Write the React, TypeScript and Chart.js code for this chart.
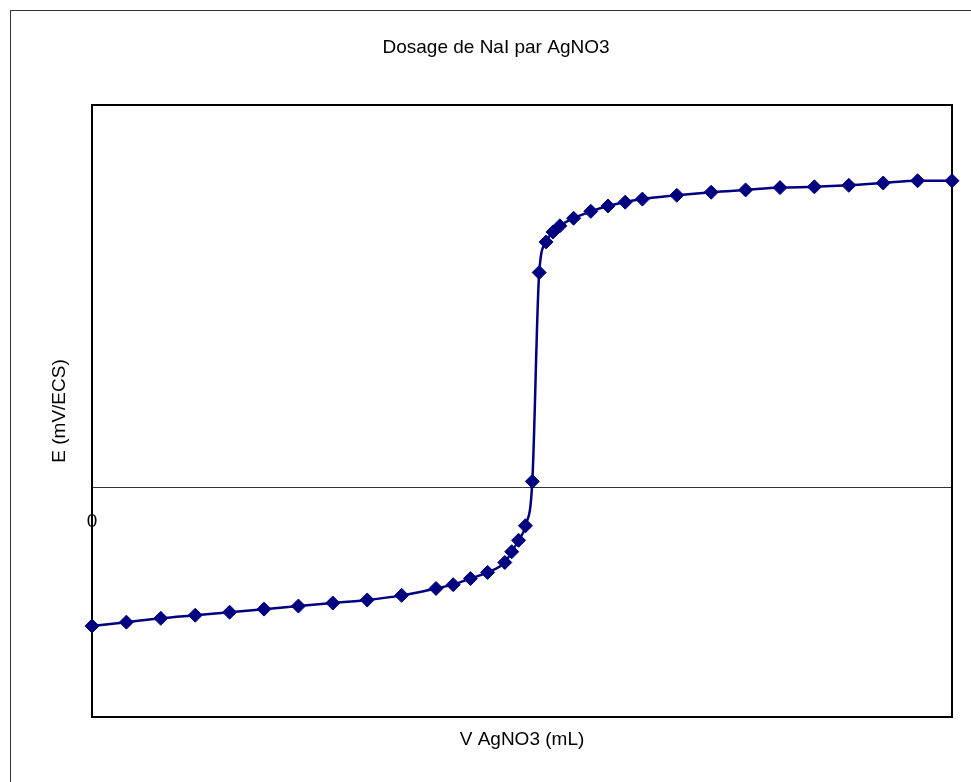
import React, { useEffect, useRef } from "react";
import { Chart, registerables } from "chart.js";

Chart.register(...registerables);

const titleText = "Dosage de NaI par AgNO3";
const xTitle = "V AgNO3 (mL)";
const yTitle = "E (mV/ECS)";

const volumes = [0, 1, 2, 3, 4, 5, 6, 7, 8, 9, 10, 10.5, 11, 11.5, 12, 12.2, 12.4, 12.6, 12.8, 13, 13.2, 13.4, 13.6, 14, 14.5, 15, 15.5, 16, 17, 18, 19, 20, 21, 22, 23, 24, 25];
const potentials = [-181, -176, -171, -167, -163, -159, -155, -151, -147, -141, -132, -127, -119, -111, -98, -84, -69, -50, 8, 281, 321, 334, 342, 352, 361, 368, 373, 377, 382, 386, 389, 392, 393, 395, 398, 401, 401];

const xMin = 0;
const xMax = 25;
const yMin = -300;
const yMax = 500;

const FONT = "'Liberation Sans', Arial, sans-serif";

const framePlugin = {
  id: "frame",
  beforeDatasetsDraw(chart: any) {
    const { ctx, chartArea } = chart;
    ctx.save();
    ctx.strokeStyle = "#000";
    ctx.lineWidth = 2;
    ctx.strokeRect(chartArea.left, chartArea.top, chartArea.right - chartArea.left, chartArea.bottom - chartArea.top);
    ctx.restore();
  },
};

export default function App() {
  const ref = useRef<HTMLCanvasElement>(null);
  useEffect(() => {
    if (!ref.current) return;
    const chart = new Chart(ref.current, {
      type: "line",
      data: {
        datasets: [
          {
            data: volumes.map((v, i) => ({ x: v, y: potentials[i] })),
            borderColor: "#000080",
            backgroundColor: "#000080",
            borderWidth: 2.5,
            pointStyle: "rectRot",
            pointRadius: 7,
            pointBorderWidth: 1,
            pointBorderColor: "#000080",
            pointBackgroundColor: "#000080",
            cubicInterpolationMode: "monotone",
            clip: false as any,
            xAxisID: "x",
            yAxisID: "y",
          },
        ],
      },
      options: {
        animation: false,
        responsive: false,
        events: [],
        layout: { padding: { left: 40, right: 19, top: 0, bottom: 0 } },
        plugins: {
          legend: { display: false },
          tooltip: { enabled: false },
          title: {
            display: true,
            text: titleText,
            color: "#000",
            font: { family: FONT, size: 19, weight: "normal" },
            padding: { top: 36.6, bottom: 45.6 },
          },
        },
        scales: {
          x: {
            type: "linear",
            position: "bottom",
            min: xMin,
            max: xMax,
            grid: { display: false },
            border: { display: false },
            ticks: { display: false },
            title: {
              display: true,
              text: xTitle,
              color: "#000",
              font: { family: FONT, size: 19, weight: "normal" },
              padding: { top: 0, bottom: 30.6 },
            },
            afterFit: (s: any) => {
              s.height = 65;
            },
          },
          x0: {
            type: "linear",
            axis: "x",
            position: { y: 0 } as any,
            min: xMin,
            max: xMax,
            grid: { display: false },
            border: { display: true, color: "#333", width: 1 },
            ticks: {
              stepSize: 25,
              autoSkip: false,
              maxRotation: 0,
              padding: 15,
              color: "#000",
              font: { family: FONT, size: 19 },
              callback: (v: any) => (v === 0 ? "0" : ""),
            },
          },
          y: {
            type: "linear",
            position: "left",
            min: yMin,
            max: yMax,
            grid: { display: false },
            border: { display: false },
            ticks: { display: false },
            title: {
              display: true,
              text: yTitle,
              color: "#000",
              font: { family: FONT, size: 19, weight: "normal" },
              padding: { top: 8.6, bottom: 0 },
            },
            afterFit: (s: any) => {
              s.width = 52;
            },
          },
        },
      } as any,
      plugins: [framePlugin],
    });
    return () => chart.destroy();
  }, []);

  return (
    <>
      <div
        style={{
          position: "absolute",
          left: 10,
          top: 10,
          width: 961,
          height: 772,
          borderLeft: "1px solid #333",
          borderTop: "1px solid #333",
          boxSizing: "border-box",
        }}
      />
      <canvas
        ref={ref}
        width={971}
        height={782}
        style={{ position: "absolute", left: 0, top: 0, width: 971, height: 782 }}
      />
    </>
  );
}
